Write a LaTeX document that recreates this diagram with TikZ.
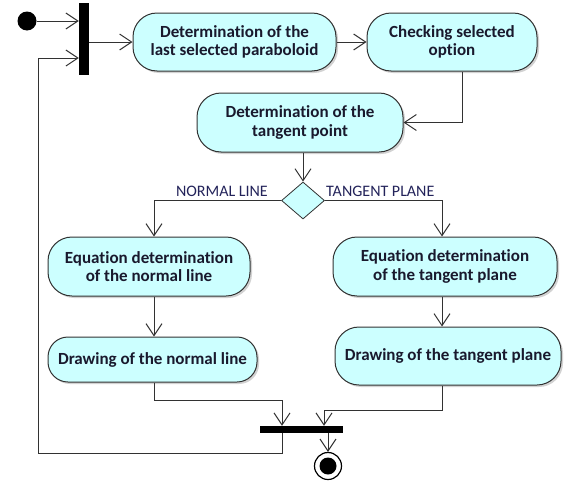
\documentclass[tikz,border=0pt]{standalone}
\usepackage{fontspec}
\setmainfont[Ligatures={NoCommon}]{Carlito}
\usetikzlibrary{arrows.meta,shadows,shapes.geometric}
\definecolor{actfill}{RGB}{204,255,255}
\definecolor{inkc}{RGB}{25,25,45}
\definecolor{labc}{RGB}{35,35,90}
\definecolor{linec}{RGB}{50,50,50}
\begin{document}
\begin{tikzpicture}[x=1pt,y=-1pt,
  activity/.style={draw=linec, line width=1pt, fill=actfill, rounded corners=#1,
    align=center, font=\fontsize{17}{18.5}\selectfont\bfseries, text=inkc, inner sep=0pt,
    drop shadow={shadow xshift=2pt, shadow yshift=-2pt, fill=black!35}},
  activity/.default=24pt,
  decision/.style={diamond, draw=linec, line width=0.8pt, fill=actfill, inner sep=0pt,
    minimum width=43pt, minimum height=37pt},
  syncbar/.style={fill=black, inner sep=0pt},
  guard/.style={font=\fontsize{16}{17}\selectfont, text=labc, inner sep=0pt},
  flow/.style={draw=linec, line width=1pt, -{Straight Barb[length=12pt,width=16pt]}}]
\useasboundingbox (0,0) rectangle (565,482);

% start, fork and end markers
\node[circle, fill=black, minimum size=19pt, inner sep=0pt] (start) at (27,21) {};
\node[syncbar, minimum width=10pt, minimum height=72pt] (fork) at (84,39) {};
\node[syncbar, minimum width=83pt, minimum height=7pt] (join) at (301.5,429.5) {};
\node[circle, draw=black, line width=1.2pt, fill=white, minimum size=27pt, inner sep=0pt] (final) at (328,466) {};
\node[circle, fill=black, minimum size=17pt, inner sep=0pt] (finaldot) at (final) {};

% activities
\node[activity, minimum width=203pt, minimum height=58pt] (n1) at (234.5,42)
  {Determination of the\\last selected paraboloid};
\node[activity, minimum width=170pt, minimum height=58pt] (n2) at (452,42)
  {Checking selected\\option};
\node[activity, minimum width=206pt, minimum height=59pt] (n3) at (300,122.5)
  {Determination of the\\tangent point};
\node[decision] (d) at (303,200.5) {};
\node[activity, minimum width=202pt, minimum height=59pt] (n4) at (149,266.5)
  {Equation determination\\of the normal line};
\node[activity=20pt, minimum width=209pt, minimum height=45pt] (n5) at (152.5,359.5)
  {Drawing of the normal line};
\node[activity, minimum width=224pt, minimum height=59pt] (n6) at (445,266.5)
  {Equation determination\\of the tangent plane};
\node[activity, minimum width=226pt, minimum height=58pt] (n7) at (448,356)
  {Drawing of the tangent plane};

% guard labels
\node[guard, anchor=east] (gnormal) at (268,191) {NORMAL LINE};
\node[guard, anchor=west] (gtangent) at (326,191) {TANGENT PLANE};

\coordinate (loopc) at (38,453);

% control flow
\draw[flow] (start) -- (start -| fork.west);
\draw[flow] (fork.east |- n1) -- (n1);
\draw[flow] (n1) -- (n2);
\draw[flow] ([xshift=10pt]n2.south) |- (n3);
\draw[flow] (n3.south -| d.north) -- (d.north);
\draw[flow] (d.west) -| ([xshift=5pt]n4.north);
\draw[flow] (d.east) -| ([xshift=-3pt]n6.north);
\draw[flow] ([xshift=5pt]n4.south) -- ([xshift=5pt]n4.south |- n5.north);
\draw[flow] ([xshift=-3pt]n6.south) -- ([xshift=-3pt]n6.south |- n7.north);
\draw[flow] ([xshift=1.5pt]n5.south) -- ++(0,18) -| ([xshift=-19.5pt]join.north);
\draw[flow] ([xshift=-6pt]n7.south) -- ++(0,25) -| ([xshift=22.5pt]join.north);
\draw[flow] ([xshift=26.5pt]join.south) -- (final);
\draw[flow] ([xshift=-19.5pt]join.south) |- (loopc) |- ([yshift=-19pt]fork.west);
\end{tikzpicture}
\end{document}
